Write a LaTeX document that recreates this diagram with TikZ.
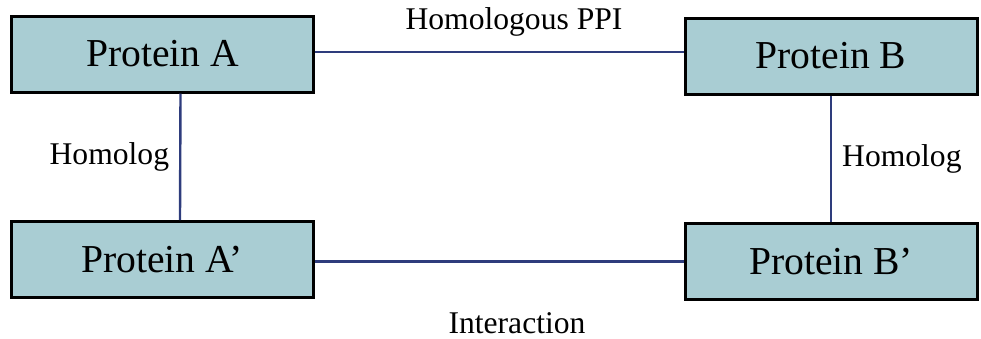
\documentclass[tikz,border=0pt]{standalone}
\usepackage{fontspec}
\setmainfont{Liberation Serif}
\definecolor{boxfill}{HTML}{A9CDD3}
\definecolor{linkcol}{HTML}{2E3C7C}
\tikzset{
  protein/.style={draw=black, line width=1.5pt, fill=boxfill, rectangle,
    minimum width=151pt, minimum height=38pt, inner sep=0pt,
    font=\fontsize{19.8}{22}\selectfont},
  link/.style={draw=linkcol, line width=1.2pt},
  lbl/.style={font=\fontsize{15.8}{18}\selectfont, inner sep=0pt}
}
\begin{document}
\begin{tikzpicture}[x=0.5pt, y=-0.5pt]
\useasboundingbox (0,0) rectangle (981,338);

\node[protein] (A) at (162.5,54) {Protein A};
\node[protein, minimum width=146pt] (B) at (831,56) {Protein B};
\node[protein] (Ap) at (162,259.5) {Protein A’};
\node[protein, minimum width=146pt] (Bp) at (831,261.5) {Protein B’};

% horizontal links
\draw[link] ([yshift=1pt]A.east) -- ([yshift=1pt]A.east -| B.west);
\draw[link] (Bp.west -| Ap.east) -- (Bp.west);
% vertical links
\draw[link] ([xshift=9pt]A.south) -- node[lbl, left=5pt] (hl) {Homolog} ([xshift=9pt]Ap.north);
\draw[link] (B.south) -- node[lbl, right=5pt] (hr) {Homolog} (Bp.north);

\node[lbl] (ppi) at (514,22) {Homologous PPI};
\node[lbl] (inter) at (517,323) {Interaction};
\end{tikzpicture}
\end{document}
